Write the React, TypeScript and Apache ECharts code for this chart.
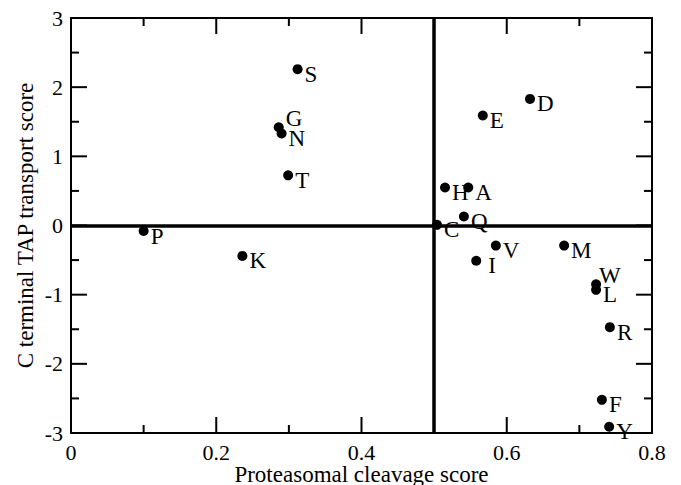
import React, { useEffect, useRef } from "react";
import * as echarts from "echarts";

const letters = ["S", "G", "N", "T", "P", "K", "D", "E", "H", "A", "Q", "C", "V", "M", "I", "W", "L", "R", "F", "Y"];
const cleavage = [0.312, 0.286, 0.29, 0.299, 0.1, 0.236, 0.632, 0.567, 0.515, 0.547, 0.541, 0.504, 0.585, 0.679, 0.558, 0.723, 0.723, 0.742, 0.731, 0.741];
const transport = [2.26, 1.42, 1.33, 0.725, -0.08, -0.44, 1.83, 1.59, 0.55, 0.55, 0.13, 0.01, -0.29, -0.29, -0.51, -0.85, -0.93, -1.47, -2.52, -2.91];

const xMin = 0, xMax = 0.8, xStep = 0.2, xMinorStep = 0.1;
const yMin = -3, yMax = 3, yStep = 1, yMinorStep = 0.5;
const xThreshold = 0.5;
const yThreshold = 0;

const xTitle = "Proteasomal cleavage score";
const yTitle = "C terminal TAP transport score";

// label placement tweaks (style only)
const labelOffsets: Record<string, [number, number]> = {
  G: [0, -9],
  W: [-4, -9],
  I: [5, 5],
};

const FONT = "'Liberation Serif', 'Times New Roman', serif";
const MAJOR_LEN = 16;
const MINOR_LEN = 8;

export default function App() {
  const ref = useRef<HTMLDivElement>(null);
  useEffect(() => {
    if (!ref.current) return;
    const chart = echarts.init(ref.current, null, { renderer: "svg" });
    const mkX = (pos: "bottom" | "top", labels: boolean) => ({
      type: "value",
      position: pos,
      min: xMin,
      max: xMax,
      interval: xStep,
      axisLine: { show: true, onZero: false, lineStyle: { color: "#000", width: 2 } },
      axisTick: { show: false },
      minorTick: { show: false },
      splitLine: { show: false },
      axisLabel: { show: labels, color: "#000", fontSize: 22, fontFamily: FONT, margin: 8 },
      name: labels ? xTitle : "",
      nameLocation: "middle",
      nameGap: 30,
      nameMoveOverlap: false,
      nameTextStyle: { color: "#000", fontSize: 23, fontFamily: FONT },
    });
    const mkY = (pos: "left" | "right", labels: boolean) => ({
      type: "value",
      position: pos,
      min: yMin,
      max: yMax,
      interval: yStep,
      axisLine: { show: true, onZero: false, lineStyle: { color: "#000", width: 2 } },
      axisTick: { show: false },
      minorTick: { show: false },
      splitLine: { show: false },
      axisLabel: { show: labels, color: "#000", fontSize: 22, fontFamily: FONT, margin: 8 },
      name: labels ? yTitle : "",
      nameLocation: "middle",
      nameGap: 34,
      nameMoveOverlap: false,
      nameTextStyle: { color: "#000", fontSize: 23, fontFamily: FONT },
    });
    const data = letters.map((l, i) => ({
      name: l,
      value: [cleavage[i], transport[i]],
      label: { offset: labelOffsets[l] || [0, 5] },
    }));
    chart.setOption({
      animation: false,
      backgroundColor: "#fff",
      grid: { left: 71, right: 29, top: 18, bottom: 52, outerBoundsMode: "none" },
      xAxis: [mkX("bottom", true), mkX("top", false)],
      yAxis: [mkY("left", true), mkY("right", false)],
      series: [
        {
          type: "scatter",
          xAxisIndex: 0,
          yAxisIndex: 0,
          symbol: "circle",
          symbolSize: 10,
          itemStyle: { color: "#000", opacity: 1 },
          clip: false,
          label: {
            show: true,
            position: "right",
            distance: 2,
            formatter: "{b}",
            color: "#000",
            fontSize: 23,
            fontFamily: FONT,
          },
          emphasis: { disabled: true },
          data,
          markLine: {
            silent: true,
            symbol: "none",
            label: { show: false },
            lineStyle: { color: "#000", width: 3.5, type: "solid" },
            data: [{ xAxis: xThreshold }, { yAxis: yThreshold }],
          },
        },
      ],
    });

    // tick marks on all four sides, placed through the axes' own scales
    const px = (v: number) => chart.convertToPixel({ xAxisIndex: 0 }, v) as number;
    const py = (v: number) => chart.convertToPixel({ yAxisIndex: 0 }, v) as number;
    const left = px(xMin), right = px(xMax), top = py(yMax), bottom = py(yMin);
    const ticks: any[] = [];
    const stroke = { stroke: "#000", lineWidth: 2 };
    const nX = Math.round((xMax - xMin) / xMinorStep);
    for (let i = 0; i <= nX; i++) {
      const v = xMin + i * xMinorStep;
      const len = i % Math.round(xStep / xMinorStep) === 0 ? MAJOR_LEN : MINOR_LEN;
      const x = px(v);
      ticks.push({ type: "line", silent: true, z: 50, shape: { x1: x, y1: bottom, x2: x, y2: bottom - len }, style: stroke });
      ticks.push({ type: "line", silent: true, z: 50, shape: { x1: x, y1: top, x2: x, y2: top + len }, style: stroke });
    }
    const nY = Math.round((yMax - yMin) / yMinorStep);
    for (let i = 0; i <= nY; i++) {
      const v = yMin + i * yMinorStep;
      const len = i % Math.round(yStep / yMinorStep) === 0 ? MAJOR_LEN : MINOR_LEN;
      const y = py(v);
      ticks.push({ type: "line", silent: true, z: 50, shape: { x1: left, y1: y, x2: left + len, y2: y }, style: stroke });
      ticks.push({ type: "line", silent: true, z: 50, shape: { x1: right, y1: y, x2: right - len, y2: y }, style: stroke });
    }
    chart.setOption({ graphic: ticks });

    return () => chart.dispose();
  }, []);
  return (
    <div
      ref={ref}
      style={{ position: "fixed", left: 0, top: 0, width: 681, height: 485, background: "#fff" }}
    />
  );
}
